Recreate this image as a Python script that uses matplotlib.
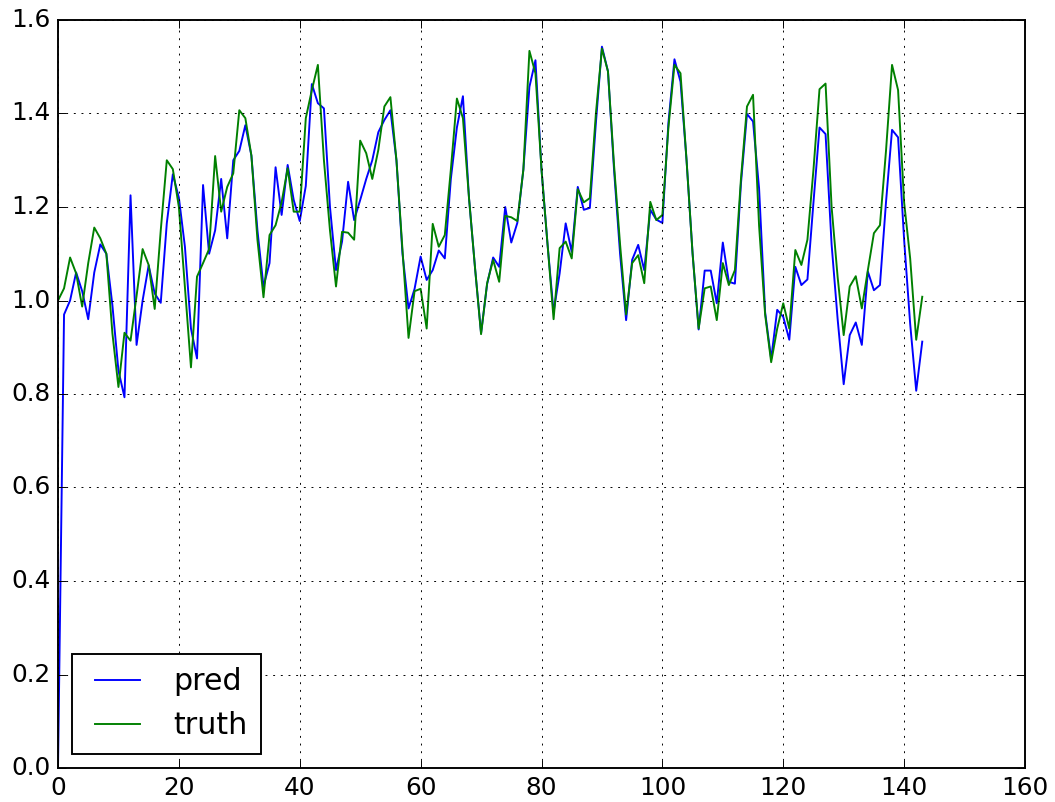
import matplotlib
matplotlib.use("Agg")
import matplotlib.pyplot as plt
import numpy as np

plt.style.use('classic')
plt.rcParams['font.size'] = 12.9

pred = [0.0, 0.97, 1.0, 1.06, 1.02, 0.96, 1.06, 1.12, 1.10, 0.99,
        0.85, 0.793, 1.225, 0.905, 1.0, 1.075, 1.015, 0.995, 1.165, 1.27,
        1.22, 1.115, 0.94, 0.876, 1.247, 1.10, 1.15, 1.26, 1.133, 1.30,
        1.32, 1.375, 1.31, 1.15, 1.03, 1.08, 1.285, 1.183, 1.29, 1.215,
        1.17, 1.245, 1.463, 1.422, 1.411, 1.20, 1.065, 1.126, 1.254, 1.172,
        1.215, 1.26, 1.30, 1.36, 1.386, 1.407, 1.30, 1.10, 0.983, 1.025,
        1.094, 1.044, 1.065, 1.107, 1.09, 1.26, 1.37, 1.437, 1.22, 1.07,
        0.93, 1.035, 1.092, 1.072, 1.20, 1.124, 1.166, 1.28, 1.457, 1.514,
        1.28, 1.12, 0.975, 1.058, 1.165, 1.104, 1.243, 1.194, 1.198, 1.38,
        1.543, 1.49, 1.28, 1.10, 0.958, 1.087, 1.119, 1.065, 1.194, 1.173,
        1.166, 1.38, 1.516, 1.468, 1.30, 1.10, 0.938, 1.064, 1.064, 0.994,
        1.124, 1.04, 1.036, 1.25, 1.399, 1.383, 1.24, 0.975, 0.875, 0.98,
        0.965, 0.916, 1.072, 1.033, 1.045, 1.21, 1.37, 1.356, 1.12, 0.96,
        0.821, 0.926, 0.953, 0.905, 1.062, 1.022, 1.033, 1.21, 1.365, 1.349,
        1.13, 0.95, 0.807, 0.912]

truth = [1.0, 1.026, 1.092, 1.058, 0.987, 1.08, 1.156, 1.133, 1.10, 0.93,
         0.815, 0.931, 0.914, 1.01, 1.11, 1.076, 0.982, 1.15, 1.30, 1.281,
         1.20, 1.03, 0.857, 1.051, 1.08, 1.11, 1.309, 1.19, 1.243, 1.272,
         1.407, 1.39, 1.31, 1.13, 1.007, 1.14, 1.161, 1.21, 1.283, 1.19,
         1.19, 1.39, 1.45, 1.504, 1.30, 1.15, 1.03, 1.147, 1.145, 1.13,
         1.342, 1.315, 1.26, 1.322, 1.415, 1.435, 1.30, 1.108, 0.92, 1.02,
         1.025, 0.94, 1.164, 1.115, 1.14, 1.28, 1.432, 1.39, 1.22, 1.07,
         0.928, 1.037, 1.087, 1.04, 1.181, 1.178, 1.17, 1.28, 1.534, 1.486,
         1.28, 1.12, 0.96, 1.112, 1.126, 1.09, 1.238, 1.21, 1.219, 1.40,
         1.539, 1.49, 1.29, 1.12, 0.97, 1.08, 1.097, 1.037, 1.211, 1.172,
         1.183, 1.37, 1.504, 1.486, 1.30, 1.10, 0.94, 1.026, 1.03, 0.958,
         1.08, 1.033, 1.065, 1.26, 1.415, 1.44, 1.16, 0.97, 0.868, 0.94,
         0.994, 0.94, 1.108, 1.076, 1.13, 1.28, 1.452, 1.464, 1.20, 1.05,
         0.926, 1.03, 1.052, 0.983, 1.065, 1.144, 1.161, 1.32, 1.504, 1.45,
         1.21, 1.09, 0.916, 1.008]

fig = plt.figure(figsize=(1055/138., 802/138.), dpi=138)
fig.subplots_adjust(left=58/1055., right=1025/1055., top=1-20/802., bottom=1-768/802.)
ax = fig.add_subplot(111)
ax.plot(pred, 'b', label='pred')
ax.plot(truth, 'g', label='truth')
ax.set_xlim(0, 160)
ax.set_ylim(0, 1.6)
ax.grid(True)
ax.legend(loc='lower left', fontsize=15.7, handlelength=2.1, handletextpad=0.8,
          borderpad=0.45, borderaxespad=0.47)

fig.savefig('out.png', dpi=138)
